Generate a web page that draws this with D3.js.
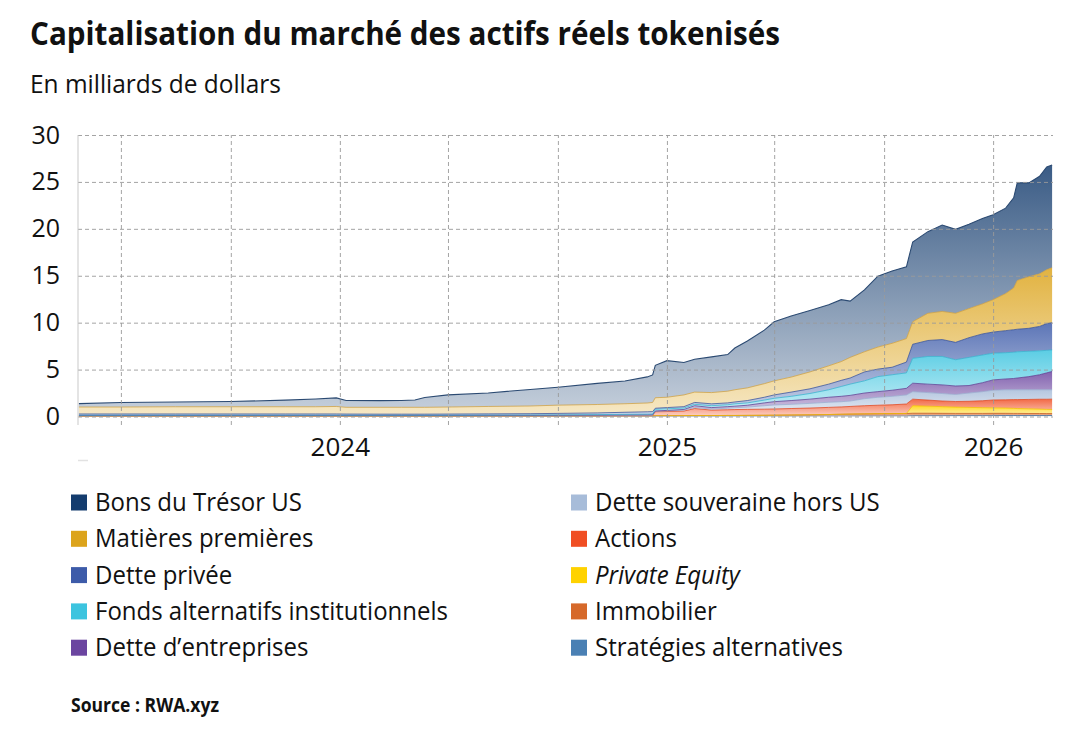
<!DOCTYPE html>
<html lang="fr">
<head>
<meta charset="utf-8">
<script src="https://cdn.jsdelivr.net/npm/d3@7"></script>
<style>
  html,body{margin:0;padding:0;background:#fff;}
  svg{display:block;}
  text{font-family:"Open Sans","Noto Sans",sans-serif;fill:#111;}
</style>
</head>
<body>
<svg id="chart" width="1071" height="747"></svg>
<script>
// ---------------- DATA (values in billions of dollars) ----------------
const dates = [
  "2023-03-15","2023-05-01","2023-07-01","2023-09-01","2023-11-01","2023-12-05","2023-12-28","2024-01-08","2024-02-15","2024-03-10",
  "2024-03-25","2024-04-05","2024-05-01","2024-06-15","2024-08-01","2024-09-01","2024-10-15","2024-11-15","2024-12-10","2024-12-16",
  "2024-12-19","2025-01-01","2025-01-20","2025-02-01","2025-02-20","2025-03-10","2025-03-18","2025-04-01","2025-04-20","2025-05-01",
  "2025-05-20","2025-06-10","2025-07-01","2025-07-15","2025-07-25","2025-08-10","2025-08-25","2025-09-10","2025-09-26","2025-10-03",
  "2025-10-20","2025-11-05","2025-11-20","2025-12-05","2025-12-20","2026-01-01","2026-01-15","2026-01-24","2026-01-28","2026-02-10",
  "2026-02-22","2026-03-02","2026-03-08"
];

const bonsTresorUS = [
  .36,.49,.51,.56,.70,.83,.91,.73,.71,.73, .78,1.05,1.29,1.44,1.76,1.91,2.25,2.43,2.78,2.93,
  3.45,3.90,3.45,3.50,3.80,3.90,4.45,5.00,5.70,6.30, 6.50,6.55,6.50,6.60,6.00,6.60,7.55,7.70,7.65,8.50,
  8.70,9.20,8.95,9.00,9.10,9.05,9.10,9.60,10.40,10.00, 10.40,10.95,10.95
];
const matieresPremieres = [
  .74,.74,.77,.77,.77,.77,.80,.72,.73,.73, .73,.73,.75,.79,.82,.88,.90,.91,.94,.98,
  1.12,1.10,1.25,1.10,1.20,1.25,1.30,1.35,1.45,1.50, 1.60,1.80,1.95,2.00,2.20,2.15,2.35,2.55,2.50,2.40,
  2.90,3.00,3.10,3.10,3.20,3.45,3.95,4.45,5.20,5.50, 5.60,5.75,5.85
];
const dettePrivee = [
  .13,.13,.13,.13,.13,.13,.13,.12,.11,.11, .11,.11,.12,.13,.14,.16,.18,.22,.25,.26,
  .11,.13,.15,.20,.20,.20,.20,.25,.30,.36, .45,.50,.60,.65,.65,.95,.80,.80,1.15,1.50,
  1.70,1.80,1.85,2.10,2.25,2.25,2.35,2.40,2.40,2.45, 2.60,2.85,2.90
];
const fondsAlternatifs = [
  .03,.03,.03,.03,.03,.03,.03,.03,.03,.03, .03,.03,.03,.03,.04,.04,.05,.06,.07,.07,
  .18,.17,.15,.15,.20,.20,.25,.25,.30,.36, .45,.60,.80,1.05,1.20,1.30,1.60,1.65,1.65,2.65,
  2.95,3.03,2.80,3.00,2.95,2.85,2.80,2.80,2.80,2.70, 2.55,2.40,2.30
];
const detteEntreprises = [
  .04,.04,.04,.04,.04,.04,.04,.04,.04,.04, .04,.04,.04,.04,.04,.04,.05,.06,.06,.07,
  .04,.05,.07,.20,.15,.17,.17,.20,.30,.35, .40,.45,.53,.57,.60,.60,.60,.65,.70,.90,
  .90,.92,.90,.80,.95,1.10,1.15,1.20,1.25,1.40, 1.60,1.80,1.95
];
const detteSouveraine = [
  .03,.03,.03,.03,.03,.03,.03,.03,.03,.03, .03,.03,.03,.03,.03,.03,.04,.04,.04,.04,
  .04,.07,.10,.10,.12,.16,.19,.24,.37,.43, .45,.50,.55,.56,.58,.75,.85,.90,.97,.80,
  .80,.80,.75,.88,.97,1.04,1.07,1.05,1.05,1.03, 1.01,1.01,1.00
];
const actions = [
  .01,.01,.01,.01,.01,.01,.01,.01,.01,.01, .01,.01,.01,.01,.01,.01,.01,.01,.02,.02,
  .43,.45,.49,.75,.58,.61,.63,.64,.65,.66, .69,.72,.76,.78,.81,.87,.90,.94,1.01,.70,
  .65,.60,.60,.65,.74,.84,.88,.93,.95,1.00, 1.05,1.08,1.10
];
const privateEquity = [
  0,0,0,0,0,0,0,0,0,0, 0,0,0,0,0,0,0,0,0,0,
  0,0,0,0,0,0,0,0,0,0, 0,0,0,0,0,0,0,0,0,.80,
  .75,.71,.67,.64,.61,.58,.56,.54,.52,.50, .47,.45,.44
];
const immobilier = [
  .02,.02,.02,.02,.02,.02,.02,.02,.02,.02, .02,.02,.02,.03,.03,.04,.04,.05,.05,.05,
  .06,.06,.07,.08,.08,.09,.08,.09,.10,.11, .13,.14,.17,.20,.22,.23,.25,.26,.27,.27,
  .27,.26,.24,.24,.24,.25,.24,.23,.23,.22, .22,.21,.21
];
const strategiesAlternatives = [
  .01,.01,.01,.01,.01,.01,.01,.01,.01,.01, .01,.01,.01,.01,.01,.01,.01,.01,.01,.01,
  .02,.02,.02,.02,.02,.02,.03,.03,.03,.03, .03,.04,.04,.04,.04,.05,.05,.05,.05,.08,
  .08,.08,.09,.09,.09,.09,.10,.10,.10,.10, .10,.10,.10
];

// legend order (row by row, two columns)
const legendLabels = [
  "Bons du Trésor US","Dette souveraine hors US",
  "Matières premières","Actions",
  "Dette privée","Private Equity",
  "Fonds alternatifs institutionnels","Immobilier",
  "Dette d’entreprises","Stratégies alternatives"
];
const yTickValues = [0,5,10,15,20,25,30];
const xTickLabelFormat = "%Y";

const titleText = "Capitalisation du marché des actifs réels tokenisés";
const subtitleText = "En milliards de dollars";
const sourceText = "Source : RWA.xyz";

// ---------------- SERIES SETUP ----------------
const series = [ // bottom -> top of the stack
  {key:"strat",   label:"Stratégies alternatives",          values:strategiesAlternatives, color:"#4a80b4", line:"#3f6f9e"},
  {key:"immo",    label:"Immobilier",                       values:immobilier,             color:"#d6692a", line:"#c45c22"},
  {key:"pe",      label:"Private Equity",                   values:privateEquity,          color:"#ffd200", line:"#f2c200"},
  {key:"actions", label:"Actions",                          values:actions,                color:"#f04e23", line:"#e0431b"},
  {key:"souv",    label:"Dette souveraine hors US",         values:detteSouveraine,        color:"#a7bcd9", line:"#9aaed0"},
  {key:"entr",    label:"Dette d’entreprises",              values:detteEntreprises,       color:"#6b45a0", line:"#5e3d90"},
  {key:"fonds",   label:"Fonds alternatifs institutionnels",values:fondsAlternatifs,       color:"#3cc4df", line:"#34b3cf"},
  {key:"privee",  label:"Dette privée",                     values:dettePrivee,            color:"#3d5ba9", line:"#35509a"},
  {key:"mat",     label:"Matières premières",               values:matieresPremieres,      color:"#dca41c", line:"#d0a040"},
  {key:"tresor",  label:"Bons du Trésor US",                values:bonsTresorUS,           color:"#143c6e", line:"#2b4a72"}
];
const legendColor = {};
series.forEach(s => legendColor[s.label] = s.color);

const parse = d3.timeParse("%Y-%m-%d");
const rows = dates.map((d,i) => {
  const r = {date: parse(d)};
  series.forEach(s => r[s.key] = s.values[i]);
  return r;
});
const stacked = d3.stack().keys(series.map(s => s.key))(rows);

// ---------------- LAYOUT ----------------
const plot = {left:78, right:1053, top:135, bottom:416.5};
const svg = d3.select("#chart");

const x = d3.scaleTime()
  .domain([new Date(2023,2,14), new Date(2026,2,9)])
  .range([plot.left, plot.right]);
const y = d3.scaleLinear().domain([0,30]).range([plot.bottom, plot.top]);

const defs = svg.append("defs");
defs.append("clipPath").attr("id","plotclip")
  .append("rect").attr("x",plot.left).attr("y",plot.top-2)
  .attr("width",plot.right-plot.left).attr("height",plot.bottom-plot.top+2);

series.forEach(s => {
  const g = defs.append("linearGradient").attr("id","grad-"+s.key)
    .attr("x1",0).attr("y1",0).attr("x2",0).attr("y2",1);
  g.append("stop").attr("offset","0%").attr("stop-color",s.color).attr("stop-opacity",0.84);
  g.append("stop").attr("offset","100%").attr("stop-color",s.color).attr("stop-opacity",0.26);
});

// areas
const area = d3.area()
  .x(d => x(d.data.date))
  .y0(d => y(d[0]))
  .y1(d => y(d[1]));
const lineTop = d3.line()
  .x(d => x(d.data.date))
  .y(d => y(d[1]));

const gAreas = svg.append("g").attr("clip-path","url(#plotclip)");
stacked.forEach((layer,i) => {
  const s = series[i];
  gAreas.append("path").attr("d", area(layer))
    .attr("fill","url(#grad-"+s.key+")");
});
stacked.forEach((layer,i) => {
  const s = series[i];
  gAreas.append("path").attr("d", lineTop(layer))
    .attr("fill","none").attr("stroke",s.line)
    .attr("stroke-width", s.key==="tresor" ? 1.1 : 0.9)
    .attr("stroke-opacity", s.key==="tresor" ? 1 : 0.85);
});

// horizontal gridlines + y labels
const yAxis = d3.axisLeft(y).tickValues(yTickValues)
  .tickSize(-(plot.right-plot.left)).tickPadding(18).tickFormat(d3.format("d"));
const gy = svg.append("g").attr("transform",`translate(${plot.left},0)`).call(yAxis);
gy.select(".domain").remove();
gy.selectAll(".tick line").attr("stroke","#9a9a9a").attr("stroke-width",0.9).attr("stroke-dasharray","4,3");
gy.selectAll(".tick text").attr("font-size",25).attr("fill","#111").attr("dy","0.32em")
  .attr("font-family",'"Open Sans","Noto Sans",sans-serif');

// vertical gridlines every 4 months, year labels at January
const gridBottom = 425;
const xAxis = d3.axisBottom(x).ticks(d3.timeMonth.every(4))
  .tickSize(-(gridBottom-plot.top)).tickPadding(13)
  .tickFormat(d => d.getMonth()===0 ? d3.timeFormat(xTickLabelFormat)(d) : "");
const gx = svg.append("g").attr("transform",`translate(0,${gridBottom})`).call(xAxis);
gx.select(".domain").remove();
gx.selectAll(".tick line").attr("stroke","#9a9a9a").attr("stroke-width",0.9).attr("stroke-dasharray","4,3");
gx.selectAll(".tick text").attr("font-size",26).attr("fill","#111")
  .attr("font-family",'"Open Sans","Noto Sans",sans-serif');

// left border
svg.append("line").attr("x1",plot.left).attr("x2",plot.left)
  .attr("y1",plot.top).attr("y2",gridBottom)
  .attr("stroke","#c9c9c9").attr("stroke-width",1);
// faint leftover mark below the axis
svg.append("line").attr("x1",plot.left).attr("x2",plot.left+10)
  .attr("y1",460.5).attr("y2",460.5).attr("stroke","#e2e2e2").attr("stroke-width",1.5);

// ---------------- TEXTS ----------------
function fit(sel, target){
  sel.attr("textLength", target).attr("lengthAdjust","spacingAndGlyphs");
}
const title = svg.append("text").attr("x",30).attr("y",45)
  .attr("font-size",32).attr("font-weight",700).text(titleText);
fit(title, 750);

const subtitle = svg.append("text").attr("x",30).attr("y",93)
  .attr("font-size",26).attr("font-weight",400).text(subtitleText);
fit(subtitle, 251);

// legend
const legend = svg.append("g");
const rowY0 = 511, rowStep = 36.3;
const colX = [71, 571];
const legendTexts = [];
legendLabels.forEach((lab,i) => {
  const col = i % 2, row = Math.floor(i/2);
  const gy0 = rowY0 + row*rowStep;
  legend.append("rect").attr("x",colX[col]).attr("y",gy0-16.5)
    .attr("width",16).attr("height",16).attr("fill",legendColor[lab]);
  const t = legend.append("text").attr("x",colX[col]+24).attr("y",gy0)
    .attr("font-size",25.5).attr("font-weight",500)
    .attr("font-style", lab==="Private Equity" ? "italic" : "normal")
    .text(lab);
  legendTexts.push(t);
});
// condense all legend labels with the same factor (derived from the longest one)
const ref = legendTexts[legendLabels.indexOf("Fonds alternatifs institutionnels")];
const k = 353 / ref.node().getComputedTextLength();
legendTexts.forEach(t => fit(t, t.node().getComputedTextLength()*k));

const source = svg.append("text").attr("x",71).attr("y",711.5)
  .attr("font-size",20).attr("font-weight",700).text(sourceText);
fit(source, 148);
</script>
</body>
</html>
